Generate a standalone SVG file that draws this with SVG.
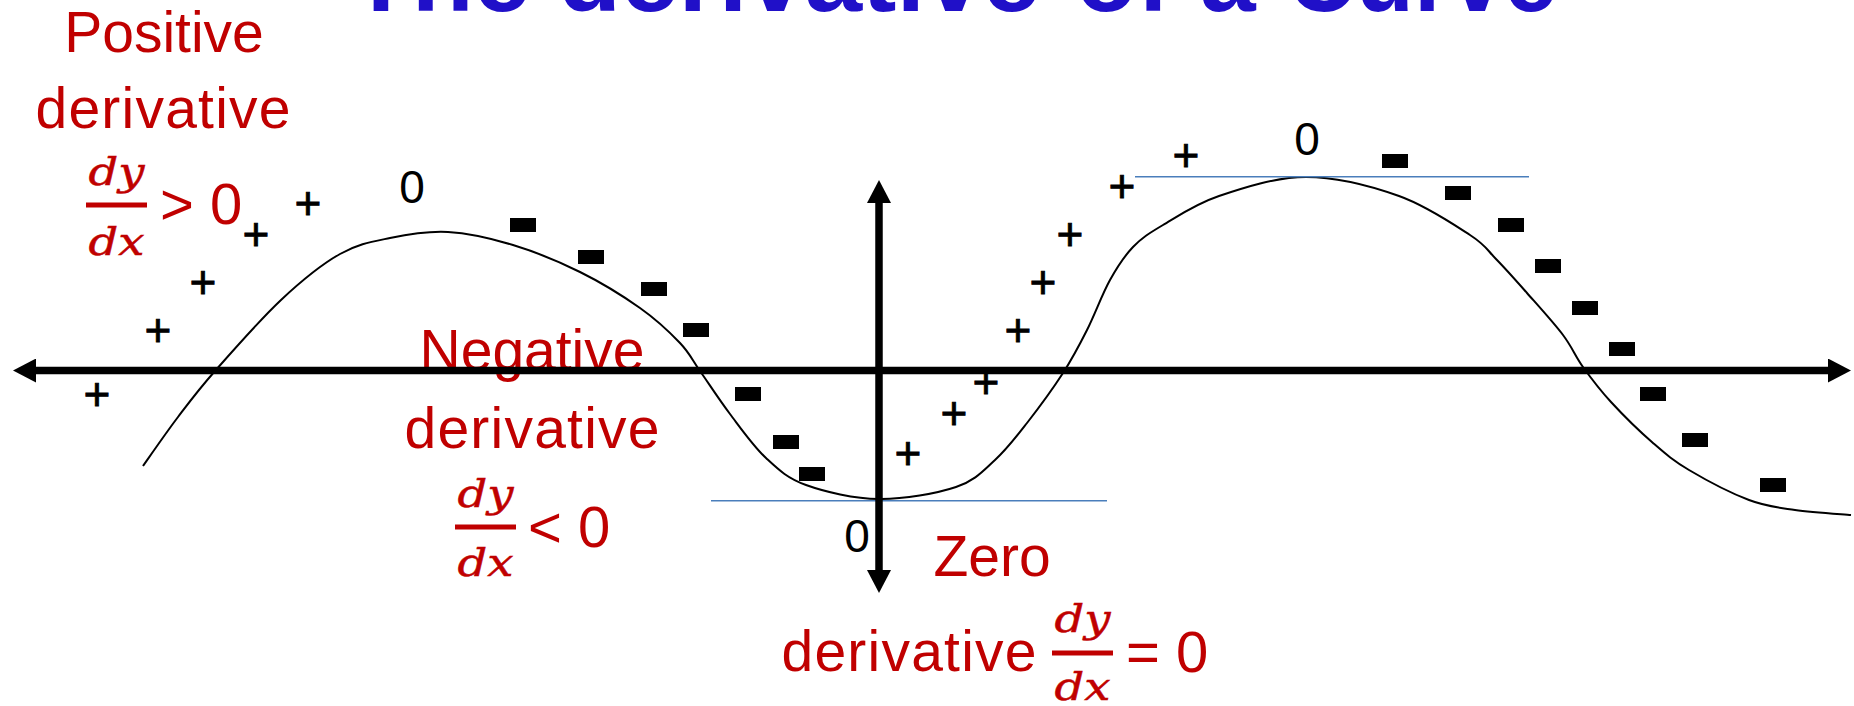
<svg xmlns="http://www.w3.org/2000/svg" width="1854" height="706" viewBox="0 0 1854 706">
<style>
.title{font-family:"Liberation Sans",Arial,sans-serif;font-weight:bold;font-size:100px;fill:#2010C8}
.red{font-family:"Liberation Sans",Arial,sans-serif;font-size:57px;fill:#C00000;text-anchor:middle}
.rel{font-family:"Liberation Sans",Arial,sans-serif;font-size:58px;fill:#C00000}
.math{font-family:"DejaVu Serif","Liberation Serif",serif;font-style:italic;font-size:40px;fill:#C00000;stroke:#C00000;stroke-width:0.5;text-anchor:middle}
.bar{fill:#C00000}
.zero{font-family:"Liberation Sans",Arial,sans-serif;font-size:46px;fill:#000;text-anchor:middle}
.plus{font-family:"Liberation Sans",Arial,sans-serif;font-size:46px;fill:#000;stroke:#000;stroke-width:0.8;text-anchor:middle}
.minus{fill:#000}
.axis{stroke:#000;stroke-width:7.5;fill:none}
.curve{stroke:#000;stroke-width:2;fill:none}
.tangent{stroke:#4A7EBB;stroke-width:1.6;fill:none}
</style>
<defs>
<marker id="arrow" viewBox="0 0 24 24" markerWidth="24" markerHeight="24" markerUnits="userSpaceOnUse" refX="0" refY="12" orient="auto-start-reverse">
<path d="M0,0 L23,12 L0,24 Z" fill="#000"/>
</marker>
</defs>

<g id="title">
<text class="title" x="350" y="11" textLength="180" lengthAdjust="spacingAndGlyphs">The</text>
<text class="title" x="558" y="11" textLength="482" lengthAdjust="spacingAndGlyphs">derivative</text>
<text class="title" x="1076" y="11">of</text>
<text class="title" x="1200" y="11">a</text>
<text class="title" x="1287" y="11" textLength="270" lengthAdjust="spacingAndGlyphs">Curve</text>
</g>

<g id="label-positive">
<text class="red" x="164" y="52">Positive</text>
<text class="red" x="163" y="128" textLength="255">derivative</text>
<text class="math" x="116.5" y="185" textLength="56" lengthAdjust="spacingAndGlyphs">dy</text>
<rect class="bar" x="86" y="202.5" width="61" height="5"/>
<text class="math" x="116.5" y="255" textLength="56" lengthAdjust="spacingAndGlyphs">dx</text>
<text class="rel" x="160" y="224">&gt; 0</text>
</g>

<g id="label-negative">
<text class="red" x="532" y="370">Negative</text>
<text class="red" x="532" y="448" textLength="255">derivative</text>
<text class="math" x="485.5" y="507" textLength="56" lengthAdjust="spacingAndGlyphs">dy</text>
<rect class="bar" x="455" y="524.5" width="61" height="5"/>
<text class="math" x="485.5" y="576" textLength="56" lengthAdjust="spacingAndGlyphs">dx</text>
<text class="rel" x="528" y="547">&lt; 0</text>
</g>

<g id="label-zero">
<text class="red" x="992" y="576">Zero</text>
<text class="red" x="909" y="671" textLength="255">derivative</text>
<text class="math" x="1082.5" y="632" textLength="56" lengthAdjust="spacingAndGlyphs">dy</text>
<rect class="bar" x="1052" y="650.5" width="61" height="5"/>
<text class="math" x="1082.5" y="700" textLength="56" lengthAdjust="spacingAndGlyphs">dx</text>
<text class="rel" x="1126" y="672">= 0</text>
</g>

<g id="curve">
<path class="curve" d="M143,466 C148.8,457.8 166,432.8 178,417 C190,401.2 197.8,390.5 215,371 C232.2,351.5 260.2,319.5 281,300 C301.8,280.5 321.8,264.3 340,254 C358.2,243.7 372,241.7 390,238 C408,234.3 427.5,230.8 448,232 C468.5,233.2 491,238.3 513,245 C535,251.7 558.8,261.5 580,272 C601.2,282.5 623.3,296.2 640,308 C656.7,319.8 670,332.5 680,343 C690,353.5 691.7,359.2 700,371 C708.3,382.8 719,399.5 730,414 C741,428.5 753.3,446.2 766,458 C778.7,469.8 787.2,478.2 806,485 C824.8,491.8 854,498.7 879,499 C904,499.3 936.7,493.5 956,487 C975.3,480.5 983.2,470.7 995,460 C1006.8,449.3 1015.7,437.5 1027,423 C1038.3,408.5 1053,388.5 1063,373 C1073,357.5 1079.2,345.5 1087,330 C1094.8,314.5 1102.3,293.8 1110,280 C1117.7,266.2 1124.2,256.2 1133,247 C1141.8,237.8 1148.7,233.5 1163,225 C1177.3,216.5 1195.2,204 1219,196 C1242.8,188 1276,177 1306,177 C1336,177 1371.7,186.3 1399,196 C1426.3,205.7 1453.8,224.5 1470,235 C1486.2,245.5 1486.5,249.3 1496,259 C1505.5,268.7 1515.8,280.3 1527,293 C1538.2,305.7 1553.7,322.7 1563,335 C1572.3,347.3 1575,355.8 1583,367 C1591,378.2 1599.3,389.3 1611,402 C1622.7,414.7 1640,431.7 1653,443 C1666,454.3 1673,460.5 1689,470 C1705,479.5 1731.3,493.3 1749,500 C1766.7,506.7 1778,507.5 1795,510 C1812,512.5 1841.7,514.2 1851,515"/>
</g>

<g id="tangents">
<line class="tangent" x1="711" y1="500.7" x2="1107" y2="500.7"/>
<line class="tangent" x1="1135" y1="176.7" x2="1529" y2="176.7"/>
</g>

<g id="axes">
<line class="axis" x1="36" y1="370.5" x2="1828" y2="370.5" marker-start="url(#arrow)" marker-end="url(#arrow)"/>
<line class="axis" x1="879" y1="203" x2="879" y2="570" marker-start="url(#arrow)" marker-end="url(#arrow)"/>
</g>

<g id="plus-signs">
<text class="plus" x="97" y="410">+</text>
<text class="plus" x="158" y="346">+</text>
<text class="plus" x="203" y="298">+</text>
<text class="plus" x="256" y="250">+</text>
<text class="plus" x="308" y="219">+</text>
<text class="plus" x="908" y="469">+</text>
<text class="plus" x="954" y="429">+</text>
<text class="plus" x="986" y="398">+</text>
<text class="plus" x="1018" y="346">+</text>
<text class="plus" x="1043" y="298">+</text>
<text class="plus" x="1070" y="250">+</text>
<text class="plus" x="1122" y="202">+</text>
<text class="plus" x="1186" y="171">+</text>
</g>

<g id="minus-signs">
<rect class="minus" x="510" y="218" width="26" height="14"/>
<rect class="minus" x="578" y="250" width="26" height="14"/>
<rect class="minus" x="641" y="282" width="26" height="14"/>
<rect class="minus" x="683" y="323" width="26" height="14"/>
<rect class="minus" x="735" y="387" width="26" height="14"/>
<rect class="minus" x="773" y="435" width="26" height="14"/>
<rect class="minus" x="799" y="467" width="26" height="14"/>
<rect class="minus" x="1382" y="154" width="26" height="14"/>
<rect class="minus" x="1445" y="186" width="26" height="14"/>
<rect class="minus" x="1498" y="218" width="26" height="14"/>
<rect class="minus" x="1535" y="259" width="26" height="14"/>
<rect class="minus" x="1572" y="301" width="26" height="14"/>
<rect class="minus" x="1609" y="342" width="26" height="14"/>
<rect class="minus" x="1640" y="387" width="26" height="14"/>
<rect class="minus" x="1682" y="433" width="26" height="14"/>
<rect class="minus" x="1760" y="478" width="26" height="14"/>
</g>

<g id="zero-labels">
<text class="zero" x="412" y="203">0</text>
<text class="zero" x="1307" y="155">0</text>
<text class="zero" x="857" y="552">0</text>
</g>
</svg>
